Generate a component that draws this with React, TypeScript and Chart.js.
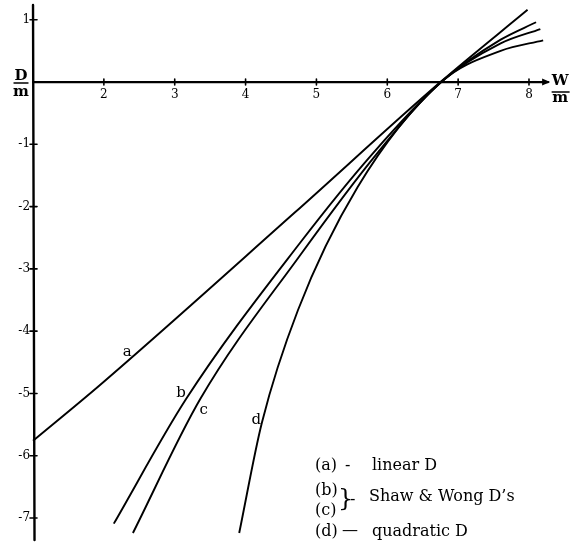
import React, { useEffect, useRef } from "react";
import { Chart, registerables } from "chart.js";

Chart.register(...registerables);

// ---- data ----
const curveNames = ["a", "b", "c", "d"];

const aX = [1.0, 1.95, 4.69, 6.75, 7.98];
const aY = [-5.76, -4.86, -2.1, 0, 1.16];

const bX = [2.14, 3.16, 4.77, 5.8, 6.76, 7.6, 8.1];
const bY = [-7.09, -5.09, -2.58, -1.14, 0, 0.68, 0.96];

const cX = [2.41, 3.36, 4.77, 5.86, 6.76, 7.6, 8.16];
const cY = [-7.24, -5.09, -2.78, -1.14, 0, 0.62, 0.85];

const dX = [3.91, 4.23, 4.74, 5.58, 6.76, 7.6, 8.2];
const dY = [-7.24, -5.47, -3.66, -1.69, 0, 0.5, 0.67];

// curve label anchors (data coordinates)
const labelX = [2.33, 3.09, 3.41, 4.15];
const labelY = [-4.33, -4.99, -5.27, -5.42];

// axis ticks
const xTicks = [2, 3, 4, 5, 6, 7, 8];
const yTicks = [1, -1, -2, -3, -4, -5, -6, -7];

// axis titles
const xTitleTop = "W";
const xTitleBottom = "m";
const yTitleTop = "D";
const yTitleBottom = "m";

// legend text
const legendA = ["(a)", "-", "linear D"];
const legendBC = ["(b)", "(c)", "}", "-", "Shaw & Wong D\u2019s"];
const legendD = ["(d)", "\u2014", "quadratic D"];

// ---- view ----
const X_MIN = 0.534;
const X_MAX = 8.607;
const Y_MIN = -7.417;
const Y_MAX = 1.317;

const W = 572;
const H = 544;

const toPts = (xs: number[], ys: number[]) => xs.map((x, i) => ({ x, y: ys[i] }));

const handPlugin = {
  id: "handPlugin",
  beforeDraw(chart: any) {
    const ctx = chart.ctx;
    ctx.save();
    ctx.fillStyle = "#ffffff";
    ctx.fillRect(0, 0, chart.width, chart.height);
    ctx.restore();
  },
  afterDatasetsDraw(chart: any) {
    const ctx: CanvasRenderingContext2D = chart.ctx;
    const xs = chart.scales.x;
    const ys = chart.scales.y;
    const px = (v: number) => xs.getPixelForValue(v);
    const py = (v: number) => ys.getPixelForValue(v);

    ctx.save();
    ctx.strokeStyle = "#000";
    ctx.fillStyle = "#000";
    ctx.lineCap = "round";

    // y axis
    const x0 = px(1);
    ctx.lineWidth = 2.4;
    ctx.beginPath();
    ctx.moveTo(x0, py(1.236));
    ctx.lineTo(x0 + 1.5, py(-7.353));
    ctx.stroke();

    // x axis with arrow
    const y0 = py(0);
    const xEnd = px(8.27);
    ctx.lineWidth = 2.2;
    ctx.beginPath();
    ctx.moveTo(x0, y0);
    ctx.lineTo(xEnd, y0);
    ctx.stroke();
    ctx.beginPath();
    ctx.moveTo(xEnd + 2, y0);
    ctx.lineTo(xEnd - 6, y0 - 3.5);
    ctx.lineTo(xEnd - 6, y0 + 3.5);
    ctx.closePath();
    ctx.fill();

    // ticks
    ctx.lineWidth = 1.6;
    ctx.font = "12px 'DejaVu Serif'";
    ctx.textAlign = "center";
    ctx.textBaseline = "middle";
    xTicks.forEach((t) => {
      const x = px(t);
      ctx.beginPath();
      ctx.moveTo(x, y0 - 3);
      ctx.lineTo(x, y0 + 3);
      ctx.stroke();
      ctx.fillText(String(t), x, y0 + 13);
    });
    ctx.textAlign = "right";
    yTicks.forEach((t) => {
      const y = py(t);
      ctx.beginPath();
      ctx.moveTo(x0 - 3, y);
      ctx.lineTo(x0 + 4, y);
      ctx.stroke();
      ctx.fillText(String(t), x0 - 3, y);
    });

    // axis titles
    ctx.font = "bold 15px 'DejaVu Serif'";
    ctx.textAlign = "center";
    ctx.fillText(yTitleTop, 21, y0 - 6);
    ctx.fillText(yTitleBottom, 21, y0 + 10);
    ctx.lineWidth = 1.4;
    ctx.beginPath();
    ctx.moveTo(14, y0 + 1);
    ctx.lineTo(28, y0 + 1);
    ctx.stroke();

    ctx.fillText(xTitleTop, xEnd + 12, y0 - 1);
    ctx.fillText(xTitleBottom, xEnd + 12, y0 + 16);
    ctx.beginPath();
    ctx.moveTo(xEnd + 4, y0 + 10);
    ctx.lineTo(xEnd + 21, y0 + 10);
    ctx.stroke();

    // curve labels
    ctx.font = "15px 'DejaVu Serif'";
    curveNames.forEach((n, i) => {
      ctx.fillText(n, px(labelX[i]), py(labelY[i]));
    });

    // legend
    ctx.font = "16px 'DejaVu Serif'";
    ctx.textAlign = "left";
    const lx = 315;
    const tx = 372;
    ctx.fillText(legendA[0], lx, 466);
    ctx.fillText(legendA[1], 345, 466);
    ctx.fillText(legendA[2], tx, 466);

    ctx.fillText(legendBC[0], lx, 491);
    ctx.fillText(legendBC[1], lx, 511);
    ctx.font = "24px 'DejaVu Serif'";
    ctx.fillText(legendBC[2], 338, 500);
    ctx.font = "16px 'DejaVu Serif'";
    ctx.fillText(legendBC[3], 350, 500);
    ctx.fillText(legendBC[4], 369, 497);

    ctx.fillText(legendD[0], lx, 532);
    ctx.fillText(legendD[1], 342, 531);
    ctx.fillText(legendD[2], tx, 532);

    ctx.restore();
  },
};

export default function App() {
  const ref = useRef<HTMLCanvasElement | null>(null);

  useEffect(() => {
    document.body.style.margin = "0";
    const canvas = ref.current;
    if (!canvas) return;
    const mk = (xs: number[], ys: number[], name: string) => ({
      label: name,
      data: toPts(xs, ys),
      borderColor: "#000",
      borderWidth: 1.9,
      pointRadius: 0,
      fill: false,
      showLine: true,
      tension: 0.4,
      cubicInterpolationMode: "monotone" as const,
    });
    const chart = new Chart(canvas, {
      type: "line",
      data: {
        datasets: [
          mk(aX, aY, curveNames[0]),
          mk(bX, bY, curveNames[1]),
          mk(cX, cY, curveNames[2]),
          mk(dX, dY, curveNames[3]),
        ],
      },
      options: {
        animation: false,
        responsive: false,
        maintainAspectRatio: false,
        layout: { padding: 0 },
        plugins: {
          legend: { display: false },
          tooltip: { enabled: false },
          title: { display: false },
        },
        scales: {
          x: { type: "linear", min: X_MIN, max: X_MAX, display: false },
          y: { type: "linear", min: Y_MIN, max: Y_MAX, display: false },
        },
      },
      plugins: [handPlugin],
    });
    return () => chart.destroy();
  }, []);

  return (
    <div style={{ width: W, height: H }}>
      <canvas ref={ref} width={W} height={H} style={{ display: "block" }} />
    </div>
  );
}
